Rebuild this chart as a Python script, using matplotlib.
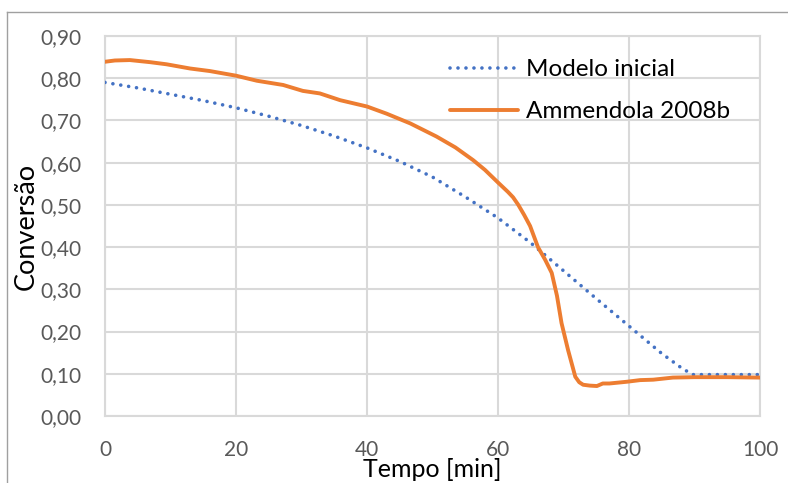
import numpy as np
import matplotlib
matplotlib.use("Agg")
import matplotlib.pyplot as plt
from matplotlib.lines import Line2D

# Modelo inicial (dotted blue)
modelo_t = [0, 5, 10, 15, 20, 25, 30, 35, 40, 45, 50, 55, 60, 65, 70, 75, 80,
            85, 88, 89.7, 92, 95, 98, 100]
modelo_x = [0.790, 0.777, 0.762, 0.747, 0.730, 0.710, 0.688, 0.663, 0.635,
            0.603, 0.566, 0.519, 0.469, 0.410, 0.344, 0.278, 0.213, 0.148,
            0.114, 0.098, 0.098, 0.098, 0.098, 0.098]

# Ammendola 2008b (solid orange)
amm_t = [0, 1.5, 3.8, 6.9, 9.4, 13, 16, 20, 23.2, 27.2, 30.2, 32.8, 35.9, 40,
         43, 46.6, 50.6, 53.5, 56.2, 58, 60, 61.5, 62.3, 63.1, 64, 64.9, 66.1,
         67.2, 68.2, 69, 69.7, 70.7, 71.8, 72.4, 73, 74, 75.1, 76, 77, 79.6,
         81.7, 83.7, 86.7, 90, 95, 100]
amm_x = [0.839, 0.842, 0.843, 0.838, 0.833, 0.823, 0.817, 0.806, 0.794, 0.784,
         0.770, 0.764, 0.748, 0.733, 0.716, 0.693, 0.662, 0.636, 0.606, 0.583,
         0.553, 0.531, 0.518, 0.500, 0.476, 0.450, 0.400, 0.370, 0.339, 0.285,
         0.220, 0.156, 0.093, 0.080, 0.074, 0.072, 0.071, 0.077, 0.077, 0.081,
         0.085, 0.086, 0.091, 0.092, 0.092, 0.091]

x_ticks = [0, 20, 40, 60, 80, 100]
y_ticks = np.arange(0, 0.91, 0.1)
y_labels = ["%.2f" % v for v in y_ticks]
y_labels = [s.replace(".", ",") for s in y_labels]

plt.rcParams["font.family"] = ["Lato", "DejaVu Sans"]

fig = plt.figure(figsize=(7.88, 4.83), dpi=100)
ax = fig.add_axes([105 / 788, 1 - 416 / 483, 655 / 788, 380 / 483])

grid_c = "#d9d9d9"
ax.plot(modelo_t, modelo_x, color="#4472C4", lw=2.6,
        linestyle=(0, (0.01, 2.2)), dash_capstyle="round",
        label="Modelo inicial", zorder=3)
ax.plot(amm_t, amm_x, color="#ED7D31", lw=2.8, solid_capstyle="round",
        solid_joinstyle="round", label="Ammendola 2008b", zorder=4)

ax.set_xlim(0, 100)
ax.set_ylim(0, 0.9)
ax.set_xticks(x_ticks)
ax.set_yticks(y_ticks)
ax.set_yticklabels(y_labels)
ax.grid(True, color=grid_c, lw=1.5)
ax.set_axisbelow(True)
for s in ax.spines.values():
    s.set_color(grid_c)
    s.set_linewidth(1.5)
ax.tick_params(length=0, labelsize=15, colors="#595959")
ax.tick_params(axis="y", pad=17)
ax.tick_params(axis="x", pad=17)

ax.set_xlabel("Tempo [min]", fontsize=18, color="black", labelpad=-1)
ax.set_ylabel("Conversão", fontsize=19.5, color="black", labelpad=1)

ax.legend(loc="upper left", bbox_to_anchor=(450 / 788, 1 - 59 / 483),
          bbox_transform=fig.transFigure, frameon=False, fontsize=17.5,
          handlelength=2.8, handletextpad=0.33, labelspacing=0.88,
          borderaxespad=0, borderpad=0)

# outer frame (top and left edges visible)
y_top = 1 - 12 / 483
x_left = 7 / 788
fig.add_artist(Line2D([x_left, 1], [y_top, y_top], color="#a0a0a0", lw=1,
                      transform=fig.transFigure))
fig.add_artist(Line2D([x_left, x_left], [0, y_top], color="#a0a0a0", lw=1,
                      transform=fig.transFigure))

fig.savefig("out.png", dpi=100)
